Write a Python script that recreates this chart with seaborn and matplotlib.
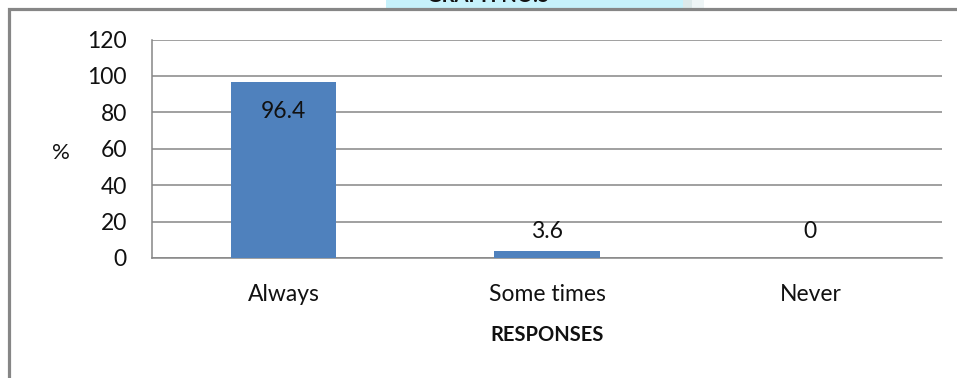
import matplotlib
matplotlib.use("Agg")
import matplotlib.pyplot as plt
from matplotlib.patches import Rectangle
import seaborn as sns
import pandas as pd

# Survey responses (percent)
categories = ["Always", "Some times", "Never"]
percentages = [96.4, 3.6, 0]
y_ticks = [0, 20, 40, 60, 80, 100, 120]
x_title = "RESPONSES"
y_title = "%"
graph_title = "GRAPH NO.5"

sns.set_theme(style="white")
plt.rcParams["font.family"] = ["Lato", "DejaVu Sans"]

W, H = 957, 378
fig = plt.figure(figsize=(W / 100, H / 100), dpi=100)
fig.patch.set_facecolor("white")


def fx(px):
    return px / W


def fy(py):
    return 1 - py / H


grey = "#868686"
ink = "#111111"

# Header band with the graph caption running off the top edge
fig.patches.append(Rectangle((fx(386), fy(8.5)), fx(683 - 386), 8.5 / H,
                             transform=fig.transFigure, facecolor="#c6f1fb",
                             edgecolor="none", zorder=0))
fig.patches.append(Rectangle((fx(683), fy(8.5)), fx(9), 8.5 / H,
                             transform=fig.transFigure, facecolor="#dce9ea",
                             edgecolor="none", zorder=0))
fig.patches.append(Rectangle((fx(692), fy(8.5)), fx(12), 8.5 / H,
                             transform=fig.transFigure, facecolor="#eef5f6",
                             edgecolor="none", zorder=0))
fig.text(fx(488), fy(2.5), graph_title, ha="center", va="baseline",
         fontsize=14.5, fontweight="bold", color=ink)

# Outer chart frame
fig.patches.append(Rectangle((fx(8.7), -0.05), 1.2, fy(9.5) + 0.05,
                             transform=fig.transFigure, facecolor="none",
                             edgecolor=grey, linewidth=2.3, zorder=1))

ax = fig.add_axes([fx(152), fy(258), fx(942 - 152), (258 - 39.5) / H])
ax.set_facecolor("white")

df = pd.DataFrame({"response": categories, "pct": percentages})
sns.barplot(data=df, x="response", y="pct", order=categories, color="#4f81bd",
            saturation=1, width=0.4, linewidth=0, edgecolor="none",
            ax=ax, zorder=3)

ax.set_xlim(-0.5, len(categories) - 0.5)
ax.set_ylim(0, 120)
ax.set_yticks(y_ticks)
ax.set_yticklabels([str(t) for t in y_ticks])
ax.grid(axis="y", color=grey, linewidth=1.1, zorder=0)
ax.grid(axis="x", visible=False)
ax.set_axisbelow(True)

for side in ["top", "right"]:
    ax.spines[side].set_visible(False)
for side in ["left", "bottom"]:
    ax.spines[side].set_color(grey)
    ax.spines[side].set_linewidth(1.1)

ax.tick_params(axis="y", which="major", length=6, width=1.1, color=grey,
               direction="out", pad=12, labelsize=16.5, labelcolor=ink)
ax.tick_params(axis="x", which="major", length=0, pad=19, labelsize=16.5,
               labelcolor=ink)
ax.set_xticks([i - 0.5 for i in range(len(categories) + 1)], minor=True)
ax.tick_params(axis="x", which="minor", length=6, width=1.1, color=grey,
               direction="out")

ax.set_xlabel(x_title, fontsize=14.5, fontweight="bold", color=ink,
              labelpad=14)
ax.set_ylabel("")
fig.text(fx(61), fy(153), y_title, ha="center", va="center", fontsize=16,
         color=ink)

# Value labels: inside the top of tall bars, above short ones
for i, v in enumerate(percentages):
    y = v - 16 if v > 50 else 14.5
    ax.text(i, y, f"{v:g}", ha="center", va="center", fontsize=16.5,
            color=ink, zorder=4)

fig.savefig("out.png", dpi=100, facecolor="white")
